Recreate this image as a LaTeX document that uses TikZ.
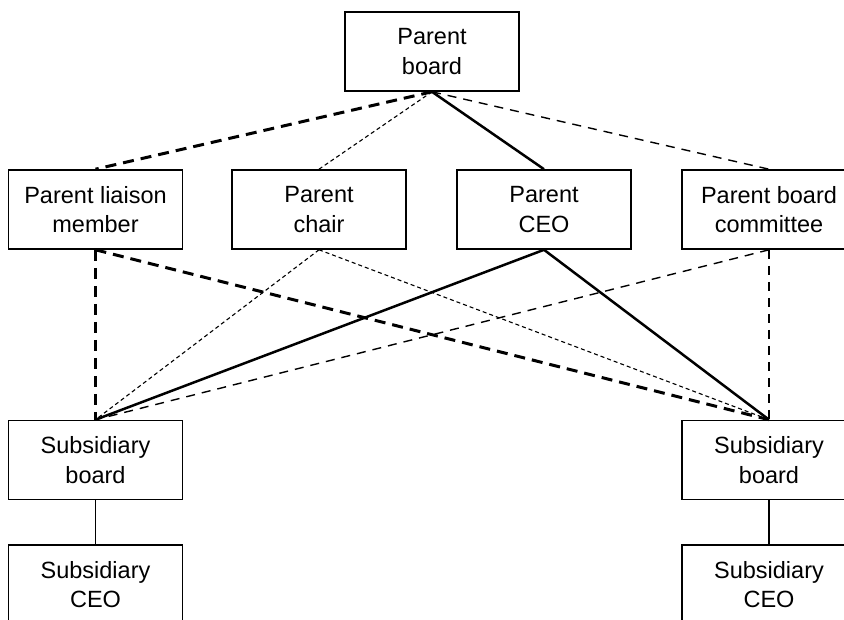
\documentclass[tikz,border=0pt]{standalone}
\usepackage{fontspec}
\setmainfont{Liberation Sans}
\begin{document}
\begin{tikzpicture}[x=1pt,y=-1pt,
  box/.style={draw,line width=1.6pt,fill=white,minimum width=174pt,minimum height=79pt,
    inner sep=0pt,align=center,font=\fontsize{23.5}{29.5}\selectfont},
  liaisonline/.style={line width=3pt,dash pattern=on 11pt off 7pt},
  chairline/.style={line width=1.1pt,dash pattern=on 4pt off 3pt},
  ceoline/.style={line width=2.5pt},
  committeeline/.style={line width=1.4pt,dash pattern=on 9pt off 7pt},
  subline/.style={line width=1.1pt}]
\useasboundingbox (0,0) rectangle (844,620);
\node[box] (pb) at (432,51.5) {Parent\\board};
\node[box] (pl) at (95.5,209.5) {Parent liaison\\member};
\node[box] (pc) at (319,209.5) {Parent\\chair};
\node[box] (pceo) at (544,209.5) {Parent\\CEO};
\node[box] (pbc) at (769,209.5) {Parent board\\committee};
\node[box] (sbl) at (95.5,460) {Subsidiary\\board};
\node[box] (sbr) at (769,460) {Subsidiary\\board};
\node[box] (scl) at (95.5,584.5) {Subsidiary\\CEO};
\node[box] (scr) at (769,584.5) {Subsidiary\\CEO};

\draw[liaisonline] (pb.south) -- (pl.north);
\draw[chairline] (pb.south) -- (pc.north);
\draw[ceoline] (pb.south) -- (pceo.north);
\draw[committeeline] (pb.south) -- (pbc.north);

\draw[liaisonline] (pl.south) -- (sbl.north);
\draw[liaisonline] (pl.south) -- (sbr.north);
\draw[chairline] (pc.south) -- (sbl.north);
\draw[chairline] (pc.south) -- (sbr.north);
\draw[ceoline] (pceo.south) -- (sbl.north);
\draw[ceoline] (pceo.south) -- (sbr.north);
\draw[committeeline] (pbc.south) -- (sbl.north);
\draw[committeeline] (pbc.south) -- (sbr.north);

\draw[subline] (sbl.south) -- (scl.north);
\draw[subline] (sbr.south) -- (scr.north);
\end{tikzpicture}
\end{document}
